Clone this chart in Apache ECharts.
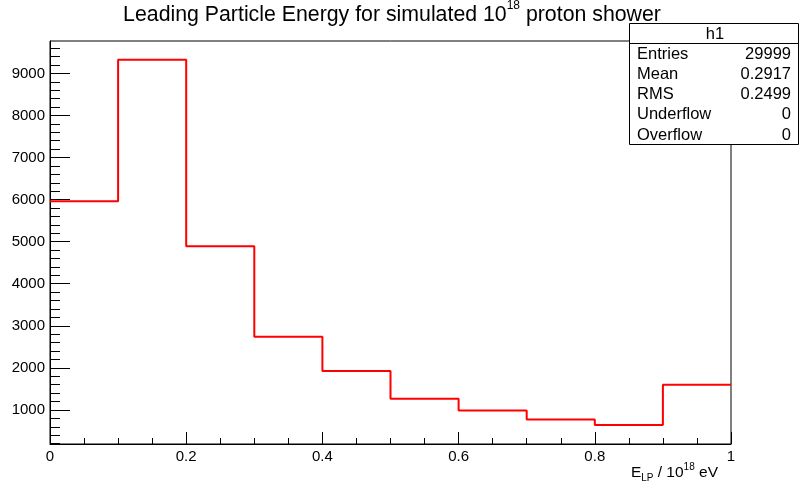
<!DOCTYPE html>
<html>
<head>
<meta charset="utf-8">
<script src="https://cdn.jsdelivr.net/npm/echarts@6/dist/echarts.min.js"></script>
<style>
html,body{margin:0;padding:0;background:#fff;}
#c{width:800px;height:488px;}
</style>
</head>
<body>
<div id="c"></div>
<script>
// Bin lower edges and counts (histogram h1)
var binEdges = [0.0, 0.1, 0.2, 0.3, 0.4, 0.5, 0.6, 0.7, 0.8, 0.9, 1.0];
var counts = [5960, 9325, 4890, 2740, 1925, 1265, 985, 770, 640, 1600];
var yMajorTicks = [1000, 2000, 3000, 4000, 5000, 6000, 7000, 8000, 9000];
var yMinorTicks = [200, 400, 600, 800, 1200, 1400, 1600, 1800, 2200, 2400, 2600, 2800,
  3200, 3400, 3600, 3800, 4200, 4400, 4600, 4800, 5200, 5400, 5600, 5800,
  6200, 6400, 6600, 6800, 7200, 7400, 7600, 7800, 8200, 8400, 8600, 8800,
  9200, 9400, 9600];
var statsLabels = ['Entries', 'Mean', 'RMS', 'Underflow', 'Overflow'];
var statsValues = ['29999', '0.2917', '0.2499', '0', '0'];

var stepData = [];
for (var i = 0; i < counts.length; i++) stepData.push([binEdges[i], counts[i]]);
stepData.push([binEdges[binEdges.length - 1], counts[counts.length - 1]]);

var FONT = 'Liberation Sans, Arial, Helvetica, sans-serif';
var chart = echarts.init(document.getElementById('c'), null, {renderer: 'canvas'});

var graphics = [
  {type: 'text', x: 392, y: 13, z: 10,
   style: {text: '{a|Leading Particle Energy for simulated 10}{s|18}{a| proton shower}',
     align: 'center', verticalAlign: 'middle',
     rich: {a: {fontSize: 21.3, fontFamily: FONT, fill: '#000', lineHeight: 26, verticalAlign: 'bottom'},
            s: {fontSize: 12, fontFamily: FONT, fill: '#000', verticalAlign: 'top'}}}},
  {type: 'text', x: 718, y: 473, z: 10,
   style: {text: '{a|E}{b|LP}{a| / 10}{s|18}{a| eV}', align: 'right', verticalAlign: 'middle',
     rich: {a: {fontSize: 15.5, fontFamily: FONT, fill: '#000', lineHeight: 21},
            b: {fontSize: 10, fontFamily: FONT, fill: '#000', verticalAlign: 'bottom', lineHeight: 10},
            s: {fontSize: 10, fontFamily: FONT, fill: '#000', verticalAlign: 'top', lineHeight: 10}}}},
  {type: 'rect', shape: {x: 629.5, y: 23.5, width: 169, height: 121}, z: 20,
   style: {fill: '#fff', stroke: '#000', lineWidth: 1}},
  {type: 'line', shape: {x1: 629.5, y1: 43.5, x2: 798.5, y2: 43.5}, z: 21,
   style: {stroke: '#000', lineWidth: 1}},
  {type: 'text', x: 715, y: 34, z: 21,
   style: {text: 'h1', font: '16.5px ' + FONT, fill: '#000', align: 'center', verticalAlign: 'middle'}}
];
var rowY = [54, 74, 94, 114, 135];
for (var k = 0; k < statsLabels.length; k++) {
  graphics.push({type: 'text', x: 637, y: rowY[k], z: 21,
    style: {text: statsLabels[k], font: '16.5px ' + FONT, fill: '#000', align: 'left', verticalAlign: 'middle'}});
  graphics.push({type: 'text', x: 791, y: rowY[k], z: 21,
    style: {text: statsValues[k], font: '16.5px ' + FONT, fill: '#000', align: 'right', verticalAlign: 'middle'}});
}

chart.setOption({
  backgroundColor: '#fff',
  animation: false,
  grid: {left: 50, right: 69, top: 41, bottom: 44, show: true, borderColor: '#000', borderWidth: 1, backgroundColor: 'transparent'},
  xAxis: {
    type: 'value', min: 0, max: 1, interval: 0.2,
    axisLine: {show: true, lineStyle: {color: '#000', width: 1}},
    axisTick: {show: true, inside: true, length: 12, lineStyle: {color: '#000'}},
    minorTick: {show: true, splitNumber: 4, length: 6, lineStyle: {color: '#000'}},
    axisLabel: {color: '#000', fontSize: 15, fontFamily: FONT, margin: 5},
    splitLine: {show: false}
  },
  yAxis: [{
    type: 'value', min: 190, max: 9770, position: 'left',
    axisLine: {show: true, lineStyle: {color: '#000', width: 1}},
    axisTick: {show: true, inside: true, length: 20, lineStyle: {color: '#000', width: 1}, customValues: yMajorTicks},
    axisLabel: {color: '#000', fontSize: 15, fontFamily: FONT, margin: 5, customValues: yMajorTicks,
      formatter: function (val) { return String(Math.round(val)); }},
    splitLine: {show: false}
  }, {
    type: 'value', min: 190, max: 9770, position: 'left', offset: 0,
    axisLine: {show: false, onZero: false},
    axisTick: {show: true, inside: true, length: 10, lineStyle: {color: '#000', width: 1}, customValues: yMinorTicks},
    axisLabel: {show: false},
    splitLine: {show: false}
  }],
  series: [{
    type: 'line', step: 'end', data: stepData, yAxisIndex: 0,
    symbol: 'none', lineStyle: {color: '#ff0000', width: 2}, z: 5
  }],
  graphic: graphics
});
</script>
</body>
</html>
